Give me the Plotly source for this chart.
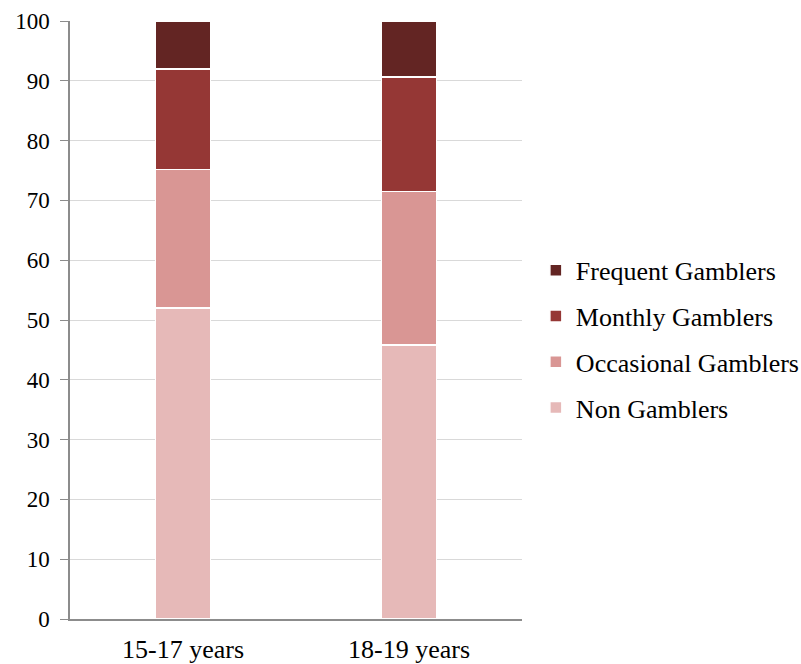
import plotly.graph_objects as go

# Share of respondents (%) by age group and gambling frequency
age_groups = ["15-17 years", "18-19 years"]
non_gamblers = [52.0, 45.8]
occasional_gamblers = [23.2, 25.7]
monthly_gamblers = [16.8, 19.1]
frequent_gamblers = [8.0, 9.4]

y_ticks = list(range(0, 101, 10))

# stacking order bottom -> top; legend lists the top segment first
series = [
    ("Non Gamblers", non_gamblers, "#E6B9B8"),
    ("Occasional Gamblers", occasional_gamblers, "#D99694"),
    ("Monthly Gamblers", monthly_gamblers, "#953735"),
    ("Frequent Gamblers", frequent_gamblers, "#632523"),
]

fig = go.Figure()
for i, (name, values, color) in enumerate(series):
    fig.add_trace(go.Bar(
        x=age_groups, y=values, name=name, legendgroup=name,
        legendrank=1000 - i,
        marker=dict(color=color, line=dict(color="white", width=1.5)),
        width=0.245,
    ))

serif = "Liberation Serif, Times New Roman, serif"
fig.update_layout(
    barmode="stack",
    width=801, height=664,
    margin=dict(l=70, r=279, t=21, b=45, autoexpand=False),
    paper_bgcolor="white", plot_bgcolor="white",
    font=dict(family=serif, color="#000000", size=22),
    legend=dict(
        traceorder="grouped",
        tracegroupgap=9,
        xref="container", yref="container",
        x=0.669, y=0.489, xanchor="left", yanchor="middle",
        font=dict(family=serif, size=26, color="#000000"),
        itemwidth=30,
    ),
    xaxis=dict(
        showline=True, linecolor="#8c8c8c", linewidth=1.5,
        ticks="", tickfont=dict(size=26), ticklabelstandoff=6,
    ),
    yaxis=dict(
        range=[0, 100], tickvals=y_ticks,
        showgrid=True, gridcolor="#d9d9d9", gridwidth=1,
        showline=True, linecolor="#8c8c8c", linewidth=1.5,
        ticks="outside", ticklen=8, tickcolor="#8c8c8c",
        tickfont=dict(size=23), ticklabelstandoff=6, zeroline=False,
    ),
)

fig.write_html("out.html")
